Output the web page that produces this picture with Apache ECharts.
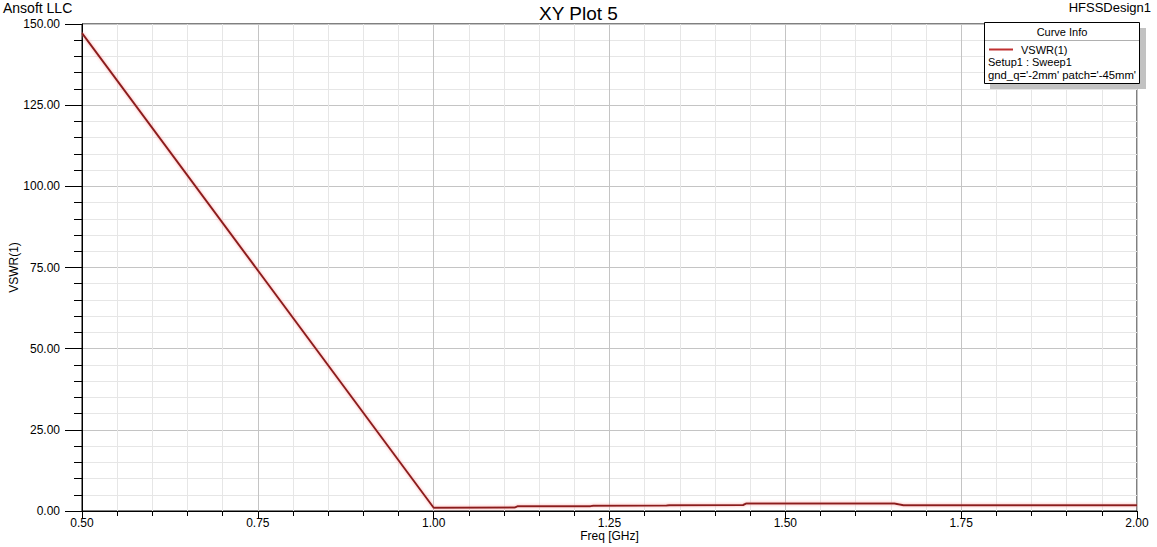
<!DOCTYPE html>
<html>
<head>
<meta charset="utf-8">
<script src="https://cdn.jsdelivr.net/npm/echarts@6/dist/echarts.min.js"></script>
<style>
html,body{margin:0;padding:0;background:#fff;}
#chart{width:1157px;height:547px;}
</style>
</head>
<body>
<div id="chart"></div>
<script>
// Data
const freqGHz = [0.5, 1.0, 1.115, 1.119, 1.223, 1.227, 1.331, 1.335, 1.440, 1.444, 1.655, 1.668, 2.0];
const vswr    = [147.2, 1.0, 1.05, 1.45, 1.5, 1.65, 1.7, 1.75, 1.85, 2.28, 2.3, 1.8, 1.8];
const xTicks = [0.5, 2.0, 0.25];   // min, max, interval
const yTicks = [0, 150, 25];       // min, max, interval
const titleText = 'XY Plot 5';
const companyText = 'Ansoft LLC';
const designText = 'HFSSDesign1';
const legendLines = ['Curve Info', 'VSWR(1)', 'Setup1 : Sweep1', "gnd_q='-2mm' patch='-45mm'"];

const font = '"Liberation Sans", Arial, sans-serif';
const chart = echarts.init(document.getElementById('chart'), null, {renderer: 'svg'});
const lineColor = '#8c1d1d';

const option = {
  backgroundColor: '#fff',
  animation: false,
  title: {
    text: titleText, left: 'center', top: -1,
    textStyle: {fontFamily: font, fontSize: 19, fontWeight: 'normal', color: '#000'}
  },
  grid: {left: 82, right: 20, top: 24, bottom: 36, containLabel: false, outerBoundsMode: 'none',
         show: true, borderColor: '#000', borderWidth: 1},
  xAxis: {
    type: 'value', min: xTicks[0], max: xTicks[1], interval: xTicks[2],
    name: 'Freq [GHz]', nameLocation: 'middle', nameGap: 19, nameMoveOverlap: false,
    nameTextStyle: {fontFamily: font, fontSize: 12, color: '#000'},
    axisLine: {lineStyle: {color: '#000', width: 1}},
    axisTick: {length: 8, lineStyle: {color: '#000'}},
    minorTick: {show: true, splitNumber: 5, length: 5, lineStyle: {color: '#000'}},
    axisLabel: {margin: 6, fontFamily: font, fontSize: 12, color: '#000', formatter: v => v.toFixed(2)},
    splitLine: {show: true, lineStyle: {color: '#c4c4c4', width: 1}},
    minorSplitLine: {show: true, lineStyle: {color: '#e6e6e6', width: 1}}
  },
  yAxis: {
    type: 'value', min: yTicks[0], max: yTicks[1], interval: yTicks[2],
    name: 'VSWR(1)', nameLocation: 'middle', nameGap: 62, nameRotate: 90, nameMoveOverlap: false,
    nameTextStyle: {fontFamily: font, fontSize: 12, color: '#000'},
    axisLine: {show: true, lineStyle: {color: '#000', width: 1}},
    axisTick: {show: true, length: 17, lineStyle: {color: '#000'}},
    minorTick: {show: true, splitNumber: 5, length: 8, lineStyle: {color: '#000'}},
    axisLabel: {margin: 22, fontFamily: font, fontSize: 12, color: '#000', formatter: v => v.toFixed(2)},
    splitLine: {show: true, lineStyle: {color: '#c4c4c4', width: 1}},
    minorSplitLine: {show: true, lineStyle: {color: '#e6e6e6', width: 1}}
  },
  series: [{
    type: 'line',
    data: freqGHz.map((f, i) => [f, vswr[i]]),
    showSymbol: false,
    lineStyle: {color: lineColor, width: 2, shadowColor: 'rgba(255,140,140,0.8)', shadowBlur: 3},
    z: 5
  }],
  graphic: [
    {type: 'text', left: 3, top: 1, style: {text: companyText, font: '14px ' + font, fill: '#000'}},
    {type: 'text', right: 6, top: 1, style: {text: designText, font: '13px ' + font, fill: '#000'}},
    // legend shadow
    {type: 'rect', shape: {x: 990, y: 28, width: 156, height: 61}, style: {fill: '#c2c2c2'}, z: 50},
    // legend box
    {type: 'rect', shape: {x: 984.5, y: 22.5, width: 155, height: 61}, style: {fill: '#fff', stroke: '#000', lineWidth: 1}, z: 51},
    {type: 'line', shape: {x1: 985, y1: 40.5, x2: 1139, y2: 40.5}, style: {stroke: '#b0b0b0', lineWidth: 1}, z: 52},
    {type: 'text', x: 1062, y: 32, style: {text: legendLines[0], font: '11px ' + font, fill: '#000', align: 'center', verticalAlign: 'middle'}, z: 52},
    {type: 'line', shape: {x1: 989, y1: 49.5, x2: 1013, y2: 49.5}, style: {stroke: '#c03030', lineWidth: 2}, z: 52},
    {type: 'text', x: 1021, y: 50, style: {text: legendLines[1], font: '11px ' + font, fill: '#000', verticalAlign: 'middle'}, z: 52},
    {type: 'text', x: 988, y: 62, style: {text: legendLines[2], font: '11px ' + font, fill: '#000', verticalAlign: 'middle'}, z: 52},
    {type: 'text', x: 988, y: 75, style: {text: legendLines[3], font: '11.3px ' + font, fill: '#000', verticalAlign: 'middle'}, z: 52}
  ]
};
chart.setOption(option);
</script>
</body>
</html>
